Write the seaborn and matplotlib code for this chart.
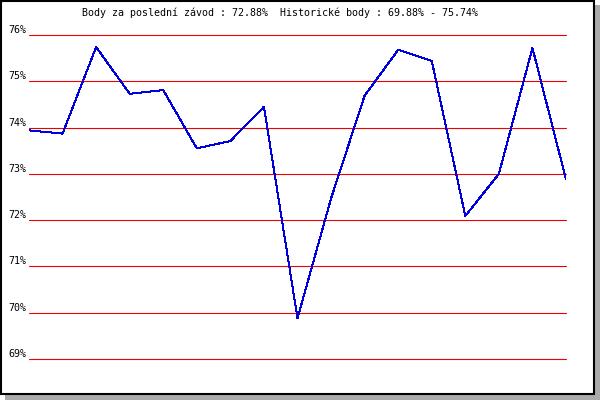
import matplotlib
matplotlib.use("Agg")
import matplotlib.pyplot as plt
from matplotlib.patches import Rectangle
import pandas as pd
import seaborn as sns

# points per race, oldest first
races = list(range(17))
points = [73.94, 73.87, 75.74, 74.73, 74.81, 73.55, 73.71, 74.45, 69.88,
          72.47, 74.69, 75.68, 75.44, 72.09, 73.00, 75.72, 72.88]
y_ticks = [69, 70, 71, 72, 73, 74, 75, 76]
y_labels = ["69%", "70%", "71%", "72%", "73%", "74%", "75%", "76%"]
title = "Body za poslední závod : 72.88%  Historické body : 69.88% - 75.74%"

sns.set_style("white")
plt.rcParams["font.family"] = ["DejaVu Sans Mono"]
plt.rcParams["text.color"] = "black"

W, H = 600, 400
fig = plt.figure(figsize=(6, 4), dpi=100)
fig.patch.set_facecolor("white")

# drop shadow + black frame, kept under the axes
fig.patches.append(Rectangle((5 / W, 0), 595 / W, 395 / H, transform=fig.transFigure,
                             facecolor="#aaaaaa", edgecolor="none", zorder=-2))
fig.patches.append(Rectangle((1 / W, 6 / H), 593 / W, 393 / H, transform=fig.transFigure,
                             facecolor="white", edgecolor="black", linewidth=1.5, zorder=-1))

ax = fig.add_axes([29 / W, 41 / H, 537 / W, 324 / H])
ax.set_facecolor("none")

df = pd.DataFrame({"race": races, "points": points})
sns.lineplot(data=df, x="race", y="points", ax=ax, color="#0000dd", linewidth=0.72,
             antialiased=False, zorder=3)

ax.set_xlim(races[0], races[-1])
ax.set_ylim(y_ticks[0], y_ticks[-1])
ax.set_xticks([])
ax.set_yticks(y_ticks)
ax.set_yticklabels(y_labels, fontsize=7.2, color="black")
plt.setp(ax.get_yticklabels(), va="bottom")
ax.tick_params(axis="y", length=0, pad=2)
ax.set_xlabel("")
ax.set_ylabel("")
ax.yaxis.grid(True, color="#ee0000", linewidth=0.8)
for gl in ax.get_ygridlines():
    gl.set_clip_on(False)
ax.set_axisbelow(True)
for s in ax.spines.values():
    s.set_visible(False)

fig.text(82 / W, 1 - 13 / H, title, fontsize=7.2, ha="left", va="center", color="black")

fig.savefig("out.png", dpi=100)
